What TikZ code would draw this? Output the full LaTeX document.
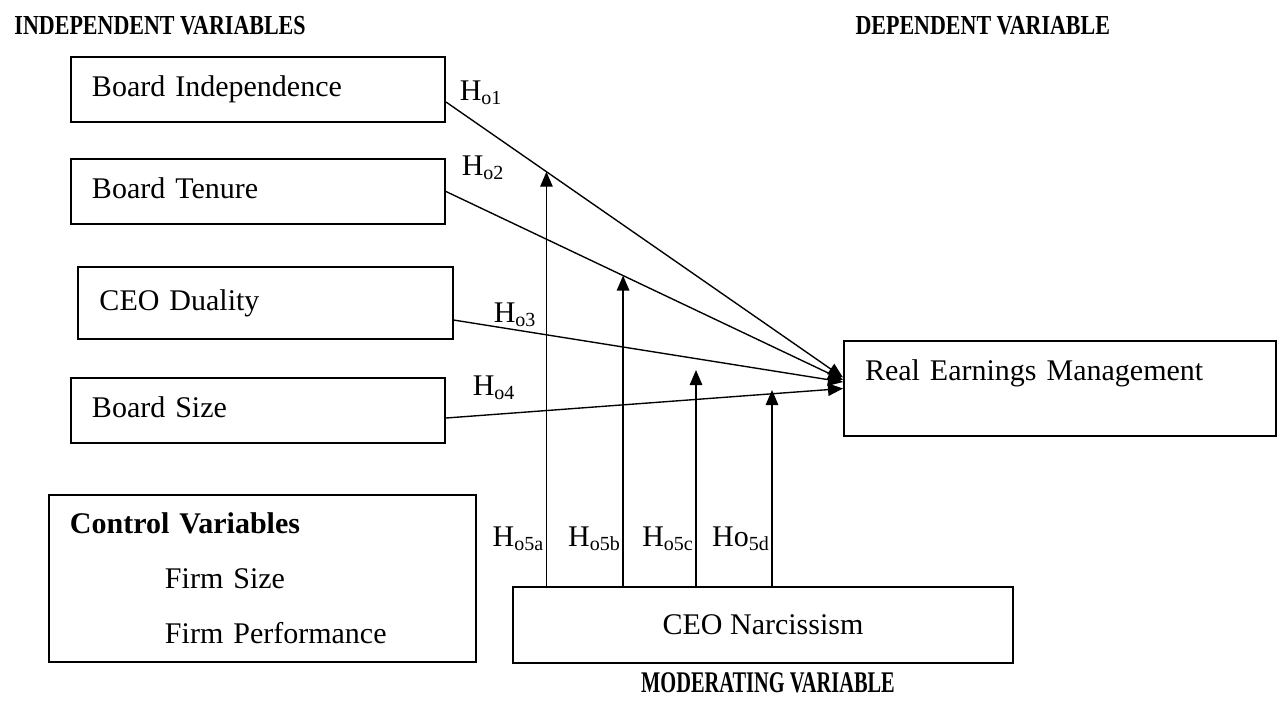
\documentclass[tikz,border=0pt]{standalone}
\usepackage{fontspec}
\setmainfont{Liberation Serif}
\usetikzlibrary{arrows.meta}
\begin{document}
\begin{tikzpicture}[x=0.4pt, y=-0.4pt, >={Triangle[length=6pt,width=5pt]},
    var/.style={draw, line width=0.8pt, font=\large, align=left, inner xsep=8.4pt,
                text width=132.8pt, minimum height=26pt, text height=8.2pt, text depth=2.6pt},
    head/.style={font=\fontsize{11}{13}\selectfont\bfseries, inner sep=0pt},
    hyp/.style={font=\large, inner sep=0.5pt},
    link/.style={->, line width=0.55pt}]
  \useasboundingbox (0,0) rectangle (1278,702);
  \node[head, anchor=base west] (indh) at (14,34) {\scalebox{0.8}[1]{INDEPENDENT VARIABLES}};
  \node[head, anchor=base west] (deph) at (855,34) {\scalebox{0.8}[1]{DEPENDENT VARIABLE}};
  \node[var] (ind)  at (258,89.5)  {Board Independence};
  \node[var] (ten)  at (258,191.5) {Board Tenure};
  \node[var, minimum height=28.8pt] (dual) at (265.5,303) {CEO Duality};
  \node[var] (size) at (258,410.5) {Board Size};
  \node[draw, line width=0.8pt, font=\large, align=left, inner xsep=8.4pt,
        text width=154pt, minimum height=66.8pt] (ctrl) at (262.5,578.5)
        {\textbf{Control Variables}\\[8pt]\hspace*{38pt}Firm Size\\[8pt]\hspace*{38pt}Firm Performance};
  \node[var, text width=156pt, minimum height=38pt, text depth=15pt] (rem) at (1060,388.5)
        {Real Earnings Management};
  \node[draw, line width=0.8pt, font=\large, minimum width=200pt, minimum height=30.4pt]
        (narc) at (763,625) {CEO Narcissism};
  \node[head, font=\large\bfseries, anchor=base] (modh) at (768,692)
        {\scalebox{0.68}[1]{MODERATING VARIABLE}};
  \node[hyp, anchor=base west] (h1) at (458,100) {H\textsubscript{o1}};
  \node[hyp, anchor=base west] (h2) at (460,175) {H\textsubscript{o2}};
  \node[hyp, anchor=base west] (h3) at (492,322) {H\textsubscript{o3}};
  \node[hyp, anchor=base west] (h4) at (471,395) {H\textsubscript{o4}};
  \draw[link] ([yshift=-5pt]ind.east) -- coordinate[pos=0.253] (m1) ([yshift=4.4pt]rem.west);
  \draw[link] (ten.east) -- coordinate[pos=0.446] (m2) ([yshift=3.4pt]rem.west);
  \draw[link] ([yshift=-6.8pt]dual.east) -- ([yshift=2.6pt]rem.west);
  \draw[link] ([yshift=-3pt]size.east) -- (rem.west);
  \coordinate (m3) at (696,370);
  \coordinate (m4) at (772,390);
  \draw[link] (narc.north -| m1) node[hyp, anchor=base east, yshift=16pt] (h5a) {H\textsubscript{o5a}} -- (m1);
  \draw[link] (narc.north -| m2) node[hyp, anchor=base east, yshift=16pt] (h5b) {H\textsubscript{o5b}} -- (m2);
  \draw[link] (narc.north -| m3) node[hyp, anchor=base east, yshift=16pt] (h5c) {H\textsubscript{o5c}} -- (m3);
  \draw[link] (narc.north -| m4) node[hyp, anchor=base east, yshift=16pt] (h5d) {Ho\textsubscript{5d}} -- (m4);
\end{tikzpicture}
\end{document}
